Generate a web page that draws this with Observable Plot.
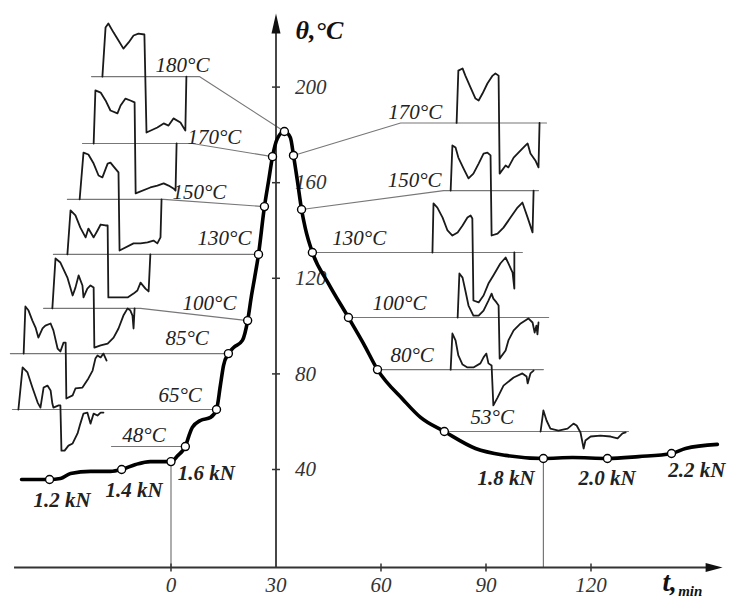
<!DOCTYPE html>
<html><head><meta charset="utf-8">
<script src="https://cdn.jsdelivr.net/npm/d3@7"></script>
<script src="https://cdn.jsdelivr.net/npm/@observablehq/plot@0.6"></script>
<style>body{margin:0;background:#fff;} svg{display:block}</style>
</head><body><div id="chart"></div>
<script>
// ---------- main temperature curve θ(t) ----------
const curveT = [-42.7,-34.7,-31.6,-28.7,-23.0,-17.3,-14.1,-10.1,-5.9,0,2.0,3.4,4.1,5.1,6.1,8.4,11.3,13.0,14.1,15.0,16.4,17.9,20.4,21.9,23.0,23.9,25.0,26.7,27.9,29.0,30.4,32.4,34.1,35.0,36.1,37.3,38.4,40.4,45.0,50.7,55.0,59.0,66.4,71.3,78.1,87.0,95.6,106.4,114.7,124.7,133.6,143.0,147.0,156.1];
const curveTheta = [35.8,35.8,36.2,38.3,39.2,39.2,40.0,42.1,43.3,43.3,45.9,48.0,49.6,54.0,57.6,60.5,61.8,65.1,75.1,83.5,88.5,91.0,94.0,102.3,112.8,120.3,130.0,150.0,160.9,170.9,178.5,181.4,178.9,171.4,160.9,148.8,140.8,130.8,117.8,103.6,92.7,81.8,69.1,61.8,55.9,48.8,45.9,44.6,45.0,44.6,45.4,46.7,48.8,50.5];

// marked points on the curve
const markerT = [-34.7,-14.1,0,4.1,13.0,16.4,21.9,25.0,26.7,29.0,32.4,35.0,37.3,40.4,50.7,59.0,78.1,106.4,124.7,143.0];
const markerTheta = [35.8,40.0,43.3,49.6,65.1,88.5,102.3,130.0,150.0,170.9,181.4,171.4,148.8,130.8,103.6,81.8,55.9,44.6,44.6,46.7];

// drop lines to the time axis
const dropT = [0,106.4];
const dropTheta = [43.3,44.6];

// ---------- axes ----------
const xTicks = [0,30,60,90,120];
const xTickMarks = [0,60,90,120];
const yTicks = [40,80,120,160,200];
const xAxisTheta = -1;      // level of the time axis
const yAxisT = 30;          // position of the θ axis
const xAxisStart = -44.7, xAxisEnd = 157.6, yAxisEnd = 230.8;

// ---------- reference lines (baseline + leader) ----------
const guide180L = [[-22.7,204.4],[8.1,204.4],[32.4,181.4]];
const guide170L = [[-25.3,176.4],[6.1,176.4],[29.0,170.9]];
const guide150L = [[-29.6,153.0],[-2.1,153.0],[26.7,150.0]];
const guide130L = [[-33.6,130.0],[25.0,130.0]];
const guide100L = [[-36.4,107.4],[-8.7,107.4],[21.9,102.3]];
const guide85L  = [[-45.9,88.5],[16.4,88.5]];
const guide65L  = [[-45.3,65.1],[13.0,65.1]];
const guide48L  = [[-17.0,49.6],[4.1,49.6]];
const guide170R = [[35.0,171.4],[65.6,185.0],[107.3,185.0]];
const guide150R = [[37.3,148.8],[77.9,156.7],[105.0,156.7]];
const guide130R = [[40.4,130.8],[100.4,130.8]];
const guide100R = [[50.7,103.6],[107.9,103.6]];
const guide80R  = [[59.0,81.8],[106.4,81.8]];
const guide53R  = [[78.1,55.9],[130.7,55.9]];

// ---------- recorded signals ----------
const wave180L = [[-19.6,204.4],[-18.7,224.9],[-17.9,226.6],[-16.4,222.8],[-15.0,219.5],[-13.6,216.1],[-12.1,218.7],[-10.7,221.6],[-9.3,222.4],[-7.6,222.0],[-7.0,181.0],[-3.9,183.1],[-2.1,184.8],[-0.7,183.9],[0.7,186.9],[2.7,185.2],[4.1,181.8],[4.4,204.4]];
const wave170L = [[-22.1,176.4],[-21.6,198.6],[-20.1,197.7],[-18.7,194.4],[-17.3,190.2],[-15.3,189.0],[-14.4,192.3],[-13.0,195.2],[-11.6,194.4],[-10.4,193.6],[-10.1,155.5],[-5.9,158.0],[-3.9,158.8],[-2.1,159.7],[-0.7,158.8],[0.7,157.6],[1.3,156.7],[1.6,176.4]];
const wave150L = [[-26.1,153.0],[-25.0,172.6],[-23.6,171.8],[-22.1,168.0],[-20.7,163.0],[-19.6,162.2],[-18.1,168.0],[-17.3,168.4],[-15.9,165.9],[-15.0,164.3],[-14.7,131.6],[-10.7,134.6],[-8.7,134.6],[-6.7,135.0],[-5.0,135.8],[-3.9,134.6],[-3.0,137.1],[-2.7,153.0]];
const wave130L = [[-29.6,130.0],[-28.7,148.4],[-27.3,146.3],[-25.9,141.2],[-24.4,137.1],[-23.6,140.8],[-22.1,137.1],[-21.0,140.0],[-20.1,142.5],[-18.7,142.1],[-18.1,142.1],[-17.9,112.0],[-14.4,112.0],[-12.4,112.0],[-10.7,113.6],[-9.6,114.9],[-8.7,118.2],[-7.3,115.7],[-6.4,114.5],[-5.9,130.0]];
const wave100L = [[-33.9,107.4],[-33.0,128.3],[-31.6,126.6],[-29.6,120.3],[-28.1,112.8],[-27.3,116.1],[-26.4,121.2],[-25.3,117.0],[-25.0,112.0],[-23.9,115.7],[-23.0,117.0],[-22.1,116.1],[-21.9,91.0],[-20.1,91.9],[-18.1,92.7],[-16.4,95.2],[-15.0,99.0],[-13.6,104.4],[-12.4,107.4],[-11.6,106.5],[-11.0,104.4],[-10.7,99.0],[-10.4,107.4]];
const wave85L = [[-42.1,88.5],[-41.6,108.2],[-40.7,106.5],[-39.6,102.3],[-38.7,99.4],[-37.9,95.2],[-36.7,99.0],[-35.9,100.2],[-34.4,101.1],[-33.6,98.2],[-32.4,90.6],[-31.6,89.4],[-30.7,93.1],[-30.1,93.1],[-29.9,69.7],[-28.1,71.0],[-27.3,73.9],[-25.3,74.3],[-23.6,78.1],[-22.4,81.4],[-21.6,86.4],[-21.0,87.7],[-20.1,86.9],[-19.3,88.5],[-18.4,85.6]];
const wave65L = [[-43.6,65.1],[-42.4,82.7],[-41.0,80.6],[-39.6,74.3],[-38.1,68.0],[-37.3,65.9],[-36.4,74.3],[-35.3,75.1],[-34.4,73.1],[-33.9,67.6],[-33.6,65.9],[-32.1,66.8],[-31.6,66.8],[-31.3,47.9],[-30.4,47.9],[-29.3,50.0],[-28.1,50.9],[-26.7,55.1],[-25.9,59.2],[-25.0,63.4],[-23.9,63.8],[-23.0,59.2],[-22.1,63.4],[-21.0,62.6],[-20.1,63.8],[-19.3,63.8]];
const wave170R = [[81.6,185.0],[82.1,206.9],[83.3,207.8],[84.1,204.8],[85.6,199.8],[87.0,195.2],[87.9,194.4],[89.0,197.3],[90.4,201.5],[91.9,204.8],[92.7,205.7],[93.6,204.8],[93.9,163.8],[95.6,167.2],[96.4,166.4],[97.9,170.5],[99.9,173.5],[101.3,175.6],[101.9,176.4],[102.7,172.2],[104.1,169.3],[105.0,166.4],[105.3,185.0]];
const wave150R = [[79.9,156.7],[80.4,175.6],[81.3,174.7],[82.1,170.5],[83.6,165.9],[85.0,161.8],[86.4,163.8],[87.9,168.0],[89.3,172.2],[90.4,172.6],[91.3,171.4],[91.6,137.9],[93.3,138.7],[95.0,141.2],[97.0,145.4],[99.0,149.6],[100.4,151.7],[101.9,145.4],[103.3,139.2],[103.6,156.7]];
const wave130R = [[74.7,130.8],[75.0,151.3],[76.1,149.6],[77.6,145.4],[79.0,140.0],[80.4,137.9],[81.9,139.2],[83.3,142.1],[84.7,145.4],[85.6,146.3],[86.1,145.0],[86.4,110.7],[87.9,109.9],[89.3,112.8],[90.7,117.8],[92.1,121.2],[94.1,126.2],[95.6,128.7],[96.4,126.2],[97.6,122.4],[98.1,115.7],[98.1,130.8]];
const wave100R = [[81.9,103.6],[82.4,122.0],[83.3,120.3],[84.1,114.9],[85.0,108.6],[86.4,104.4],[87.9,104.4],[89.3,106.5],[90.7,110.7],[91.6,113.6],[92.1,111.5],[93.0,109.9],[93.6,108.6],[93.9,86.4],[95.6,89.8],[96.4,94.0],[97.9,98.2],[99.9,101.1],[102.1,103.2],[103.3,101.5],[103.9,97.3],[104.4,100.2],[104.7,96.5],[105.0,101.5]];
const wave80R = [[79.9,81.8],[80.4,96.9],[81.3,94.0],[82.1,87.7],[83.3,83.9],[84.7,82.7],[86.4,82.7],[88.4,84.4],[89.3,86.9],[90.1,88.5],[90.7,84.4],[91.6,83.5],[92.1,66.8],[93.3,70.1],[95.0,75.1],[97.9,78.5],[100.4,80.2],[101.6,78.9],[101.9,76.0],[102.7,80.2],[103.6,81.4]];
const wave53R = [[105.6,55.9],[106.4,64.7],[107.3,60.5],[108.4,57.1],[110.7,56.3],[113.3,57.1],[115.0,59.2],[115.9,58.4],[117.0,55.5],[117.9,48.8],[118.4,52.1],[119.9,53.8],[122.7,54.2],[125.6,53.8],[127.6,53.0],[129.0,55.1],[129.9,55.5]];

// ---------- labels ----------
const tempLabelText = ["180°C","170°C","150°C","130°C","100°C","85°C","65°C","48°C","170°C","150°C","130°C","100°C","80°C","53°C"];
const tempLabelT = [-4.4,4.7,0.4,7.6,3.3,-1.6,-3.6,-13.9,62.1,61.9,46.1,57.6,62.7,85.6];
const tempLabelTheta = [209.2,178.9,155.9,136.7,109.4,94.8,70.9,54.2,189.4,160.9,136.7,109.4,87.7,61.8];

const loadText = ["1.2 kN","1.4 kN","1.6 kN","1.8 kN","2.0 kN","2.2 kN"];
const loadT = [-39.3,-18.7,1.9,87.6,116.4,142.1];
const loadTheta = [27.3,31.2,38.3,36.2,36.2,39.6];

// ---------- build tables ----------
const toRows = (named) => Object.entries(named).flatMap(([id, pts]) => pts.map(([t, theta]) => ({id, t, theta})));
const guides = toRows({guide180L,guide170L,guide150L,guide130L,guide100L,guide85L,guide65L,guide48L,guide170R,guide150R,guide130R,guide100R,guide80R,guide53R});
const waves = toRows({wave180L,wave170L,wave150L,wave130L,wave100L,wave85L,wave65L,wave170R,wave150R,wave130R,wave100R,wave80R,wave53R});
const curve = curveT.map((t,i) => ({t, theta: curveTheta[i]}));
const markers = markerT.map((t,i) => ({t, theta: markerTheta[i]}));

const vTick = {draw(c){c.moveTo(0,-4);c.lineTo(0,4);}};
const hTick = {draw(c){c.moveTo(-4,0);c.lineTo(4,0);}};
const arrowUp = {draw(c){c.moveTo(0,0);c.lineTo(4.5,20);c.lineTo(-4.5,20);c.closePath();}};
const arrowRight = {draw(c){c.moveTo(0,0);c.lineTo(-17,-4.5);c.lineTo(-17,4.5);c.closePath();}};

const serif = "'Liberation Serif', 'DejaVu Serif', serif";
const ink = "#1a1a1a";

const chart = Plot.plot({
  width: 731, height: 601, margin: 0,
  x: {domain: [-48.714, 160.143], axis: null},
  y: {domain: [-15.23, 236.23], axis: null},
  style: {background: "#fff", fontFamily: serif, overflow: "visible"},
  marks: [
    Plot.line(guides, {x: "t", y: "theta", z: "id", stroke: "#777", strokeWidth: 1.1}),
    Plot.ruleX(dropT, {x: d => d, y1: (d,i) => dropTheta[i], y2: () => xAxisTheta, stroke: "#777", strokeWidth: 1.2}),
    // axes
    Plot.ruleY([xAxisTheta], {x1: xAxisStart, x2: xAxisEnd - 3, stroke: "#333", strokeWidth: 1.8}),
    Plot.ruleX([yAxisT], {y1: xAxisTheta, y2: yAxisEnd - 6, stroke: "#333", strokeWidth: 1.8}),
    Plot.dot([yAxisEnd], {x: () => yAxisT, y: d => d, symbol: arrowUp, fill: "#111", stroke: "none"}),
    Plot.dot([xAxisEnd], {x: d => d, y: () => xAxisTheta, symbol: arrowRight, fill: "#111", stroke: "none"}),
    Plot.dot(xTickMarks, {x: d => d, y: () => xAxisTheta, symbol: vTick, stroke: "#333", strokeWidth: 1.5, fill: "none"}),
    Plot.dot(yTicks, {x: () => yAxisT, y: d => d, symbol: hTick, stroke: "#333", strokeWidth: 1.5, fill: "none"}),
    Plot.text(xTicks, {x: d => d, y: () => xAxisTheta, text: d => String(d), dy: 18, fontSize: 21, fontStyle: "italic", fill: "#333"}),
    Plot.text(yTicks, {x: () => yAxisT, y: d => d, text: d => String(d), dx: 19, textAnchor: "start", fontSize: 21, fontStyle: "italic", fill: "#333"}),
    // signals
    Plot.line(waves, {x: "t", y: "theta", z: "id", stroke: ink, strokeWidth: 1.8, strokeLinejoin: "round"}),
    // temperature curve
    Plot.line(curve, {x: "t", y: "theta", curve: "monotone-x", stroke: "#000", strokeWidth: 3.6}),
    Plot.dot(markers, {x: "t", y: "theta", r: 4, fill: "#fff", stroke: "#000", strokeWidth: 1.4}),
    // labels
    Plot.text(tempLabelText, {x: tempLabelT, y: tempLabelTheta, text: d => d, textAnchor: "start", fontSize: 21, fontStyle: "italic", fill: "#222"}),
    Plot.text(loadText, {x: loadT, y: loadTheta, text: d => d, textAnchor: "start", fontSize: 21, fontStyle: "italic", fontWeight: "bold", fill: "#222"}),
    Plot.text(["θ,°C"], {x: () => 35.6, y: () => 223.7, text: d => d, textAnchor: "start", fontSize: 26, fontStyle: "italic", fontWeight: "bold", fill: "#111"}),
    Plot.text(["t,"], {x: () => 140.4, y: () => -7.3, text: d => d, textAnchor: "start", fontSize: 27, fontStyle: "italic", fontWeight: "bold", fill: "#111"}),
    Plot.text(["min"], {x: () => 144.9, y: () => -11.0, text: d => d, textAnchor: "start", fontSize: 15, fontStyle: "italic", fontWeight: "bold", fill: "#111"})
  ]
});
document.getElementById("chart").appendChild(chart);
</script></body></html>
